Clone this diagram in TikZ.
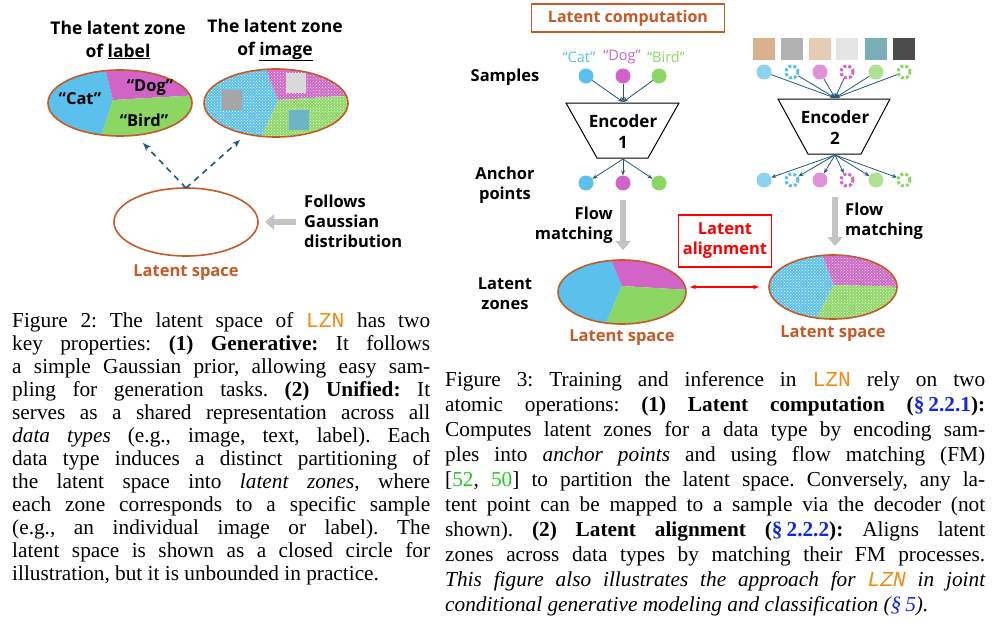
\documentclass[tikz,border=0pt]{standalone}
\usepackage{fontspec}
\setmainfont{Liberation Serif}
\newfontfamily\dg{Open Sans}
\newfontfamily\mymono{Liberation Mono}
\usetikzlibrary{arrows.meta,patterns}
\frenchspacing
\definecolor{cy}{RGB}{91,192,235}
\definecolor{mg}{RGB}{210,100,200}
\definecolor{gr}{RGB}{140,215,100}
\definecolor{br}{RGB}{196,90,40}
\definecolor{tl}{RGB}{35,90,120}
\definecolor{lzn}{RGB}{240,140,20}
\definecolor{lnk}{RGB}{20,40,220}
\definecolor{gn}{RGB}{40,200,40}
\definecolor{ar}{RGB}{195,195,195}
\newcommand\lzn{{\mymono\color{lzn}LZN}}
\newcommand\secref[1]{\textcolor{lnk}{§\kern4pt#1}}
\tikzset{
 lab/.style={font=\dg\bfseries\fontsize{16.5}{20}\selectfont,align=center,inner sep=0},
 zone/.style={draw=br,line width=1.6pt},
 capline/.style={anchor=base west,inner sep=0,font=\fontsize{21.3}{22}\selectfont},
 ln/.style={-{Stealth[length=5pt,width=4pt]},draw=tl,line width=0.8pt},
 gar/.style={-{Triangle[length=9pt,width=15pt]},draw=ar,line width=6pt},
 dot/.style={circle,inner sep=0,minimum size=15pt},
 ph/.style={rectangle,inner sep=0,minimum size=20pt},
}
\newcommand\zones[9]{%
  \begin{scope}
  \clip (#1,#2) ellipse [x radius=#3,y radius=#4];
  \fill[cy] (#1-#3,#2-#4) -- (#5) -- (#6) -- (#8) -- (#1-#3,#2+#4) -- cycle;
  \fill[mg] (#5) -- (#1+#3,#2-#4) -- (#7) -- (#6) -- cycle;
  \fill[gr] (#6) -- (#7) -- (#1+#3,#2+#4) -- (#8) -- cycle;
  #9
  \end{scope}
  \draw[zone] (#1,#2) ellipse [x radius=#3,y radius=#4];}
\begin{document}
\begin{tikzpicture}[x=1pt,y=-1pt]
\useasboundingbox (0,0) rectangle (1000,629);
\fill[white] (0,0) rectangle (1000,629);
% ---------- left diagram
\node[lab,font=\dg\bfseries\fontsize{17.5}{23}\selectfont] (t1) at (118,40) {The latent zone\\of \underline{label}};
\node[lab,font=\dg\bfseries\fontsize{17.5}{23}\selectfont] (t2) at (275,40) {The latent zone\\of \underline{image}};
\zones{120}{103}{72}{33}{103,60}{113,100}{200,95}{100,140}{}
\node[lab] (cat) at (80,99) {“Cat”};
\node[lab] (dog) at (150,88) {“Dog”};
\node[lab] (bird) at (144,120) {“Bird”};
\zones{276}{103}{72}{34}{262,60}{278,100}{360,95}{258,145}{\fill[pattern=crosshatch dots,pattern color=white] (200,60) rectangle (360,150);}
\node[ph,fill=gray!70] (p1) at (232,100) {};
\node[ph,fill=gray!30] (p2) at (296,83) {};
\node[ph,fill=cy!80!brown] (p3) at (299,120) {};
\draw[zone] (186,222) ellipse [x radius=72,y radius=34];
\coordinate (ls) at (186,188);
\draw[-{Stealth[length=8pt]},tl,line width=1.6pt,dash pattern=on 6pt off 5pt] (ls) -- (143,143);
\draw[-{Stealth[length=8pt]},tl,line width=1.6pt,dash pattern=on 6pt off 5pt] (ls) -- (240,140);
\node[lab,text=br] (lsl) at (186,273) {Latent space};
\node[lab,align=left,anchor=west] (fol) at (304,221) {Follows\\Gaussian\\distribution};
\draw[gar] (296,222) -- (265,222);
% ---------- right diagram
\node[draw=br,line width=1.5pt,minimum width=193pt,minimum height=28pt,text=br,font=\dg\bfseries\fontsize{16}{18}\selectfont] (lc) at (628,18) {Latent computation};
\node[lab] (samp) at (505,77) {Samples};
\node[lab] (anch) at (505,185) {Anchor\\points};
\node[lab] (lz) at (505,294) {Latent\\zones};
\node[font=\dg\fontsize{14.5}{18}\selectfont,text=cy] at (579,57) {“Cat”};
\node[font=\dg\fontsize{14.5}{18}\selectfont,text=mg] at (622,57) {“Dog”};
\node[font=\dg\fontsize{14.5}{18}\selectfont,text=gr] at (666,57) {“Bird”};
\node[dot,fill=cy] (s1) at (586,76) {};
\node[dot,fill=mg] (s2) at (623,76) {};
\node[dot,fill=gr] (s3) at (659,76) {};
\draw[line width=1pt] (566,103) -- (679,103) -- (648,158) -- (597,158) -- cycle;
\node[lab,font=\dg\bfseries\fontsize{17}{21}\selectfont] (e1) at (623,132) {Encoder\\1};
\coordinate (e1t) at (623,102);
\coordinate (e1b) at (623,159);
\foreach \s in {s1,s2,s3} \draw[ln] (\s) -- (e1t);
\node[dot,fill=cy] (a1) at (586,183) {};
\node[dot,fill=mg] (a2) at (623,183) {};
\node[dot,fill=gr] (a3) at (659,183) {};
\foreach \s in {a1,a2,a3} \draw[ln] (e1b) -- (\s);
\draw[gar] (623,200) -- (623,250);
\node[lab,align=right,anchor=east] (fm1) at (613,225) {Flow\\matching};
\zones{622}{292}{64}{32}{607,250}{622,286}{690,290}{603,330}{}
\node[lab,text=br] (ls1) at (622,338) {Latent space};
% encoder 2
\foreach \x/\c [count=\i] in {764/brown!60,792/gray!60,820/brown!40,847/gray!20,876/cy!70!brown,904/black!70}
  \node[ph,fill=\c,minimum size=22pt] (q\i) at (\x,49) {};
\foreach \x/\c/\d [count=\i] in {764/cy/0,792/cy/1,820/mg/0,847/mg/1,876/gr/0,904/gr/1}{
  \ifnum\d=0
   \node[dot,fill=\c,fill opacity=0.7] (r\i) at (\x,72) {};
   \node[dot,fill=\c,fill opacity=0.7] (b\i) at (\x,180) {};
  \else
   \node[dot,draw=\c,line width=3pt,dash pattern=on 3pt off 2pt,minimum size=12pt] (r\i) at (\x,72) {};
   \node[dot,draw=\c,line width=3pt,dash pattern=on 3pt off 2pt,minimum size=12pt] (b\i) at (\x,180) {};
  \fi}
\draw[line width=1pt] (778,99) -- (890,99) -- (861,154) -- (808,154) -- cycle;
\node[lab,font=\dg\bfseries\fontsize{17}{21}\selectfont] (e2) at (835,128) {Encoder\\2};
\coordinate (e2t) at (835,98);
\coordinate (e2b) at (835,155);
\foreach \i in {1,...,6} \draw[ln] (r\i) -- (e2t);
\foreach \i in {1,...,6} \draw[ln] (e2b) -- (b\i);
\draw[gar] (835,197) -- (835,246);
\node[lab,align=left,anchor=west] (fm2) at (845,221) {Flow\\matching};
\zones{833}{287}{64}{32}{820,250}{834,285}{900,287}{813,325}{\fill[pattern=crosshatch dots,pattern color=white] (760,250) rectangle (900,325);}
\node[lab,text=br] (ls2) at (833,334) {Latent space};
\node[draw=red,line width=1.5pt,minimum width=93pt,minimum height=52pt,text=red,lab,inner sep=0] (la) at (725,241) {Latent\\alignment};
\draw[{Stealth[length=6pt]}-{Stealth[length=6pt]},red,line width=1.4pt] (690,287) -- (759,287);
% ---------- captions
\begin{scope}[every node/.style={capline}]
\node at (12,327) {\hbox to 418pt{Figure 2: The latent space of \lzn{} has two}};
\node at (12,350) {\hbox to 418pt{key properties: \textbf{(1) Generative:} It follows}};
\node at (12,373) {\hbox to 418pt{a simple Gaussian prior, allowing easy sam-}};
\node at (12,396) {\hbox to 418pt{pling for generation tasks. \textbf{(2) Unified:} It}};
\node at (12,419) {\hbox to 418pt{serves as a shared representation across all}};
\node at (12,442) {\hbox to 418pt{\textit{data types} (e.g., image, text, label). Each}};
\node at (12,465) {\hbox to 418pt{data type induces a distinct partitioning of}};
\node at (12,488) {\hbox to 418pt{the latent space into \textit{latent zones}, where}};
\node at (12,511) {\hbox to 418pt{each zone corresponds to a specific sample}};
\node at (12,534) {\hbox to 418pt{(e.g., an individual image or label). The}};
\node at (12,557) {\hbox to 418pt{latent space is shown as a closed circle for}};
\node at (12,580) {illustration, but it is unbounded in practice.};
\node at (445,386) {\hbox to 540pt{Figure 3: Training and inference in \lzn{} rely on two}};
\node at (445,411) {\hbox to 540pt{atomic operations: \textbf{(1) Latent computation (\secref{2.2.1}):}}};
\node at (445,436) {\hbox to 540pt{Computes latent zones for a data type by encoding sam-}};
\node at (445,461) {\hbox to 540pt{ples into \textit{anchor points} and using flow matching (FM)}};
\node at (445,486) {\hbox to 540pt{[\textcolor{gn}{52}, \textcolor{gn}{50}] to partition the latent space. Conversely, any la-}};
\node at (445,511) {\hbox to 540pt{tent point can be mapped to a sample via the decoder (not}};
\node at (445,536) {\hbox to 540pt{shown). \textbf{(2) Latent alignment (\secref{2.2.2}):} Aligns latent}};
\node at (445,561) {\hbox to 540pt{zones across data types by matching their FM processes.}};
\node at (445,586) {\hbox to 540pt{\itshape This figure also illustrates the approach for \lzn{} in joint}};
\node at (445,611) {\itshape conditional generative modeling and classification (\secref{5}).};
\end{scope}
\end{tikzpicture}
\end{document}
